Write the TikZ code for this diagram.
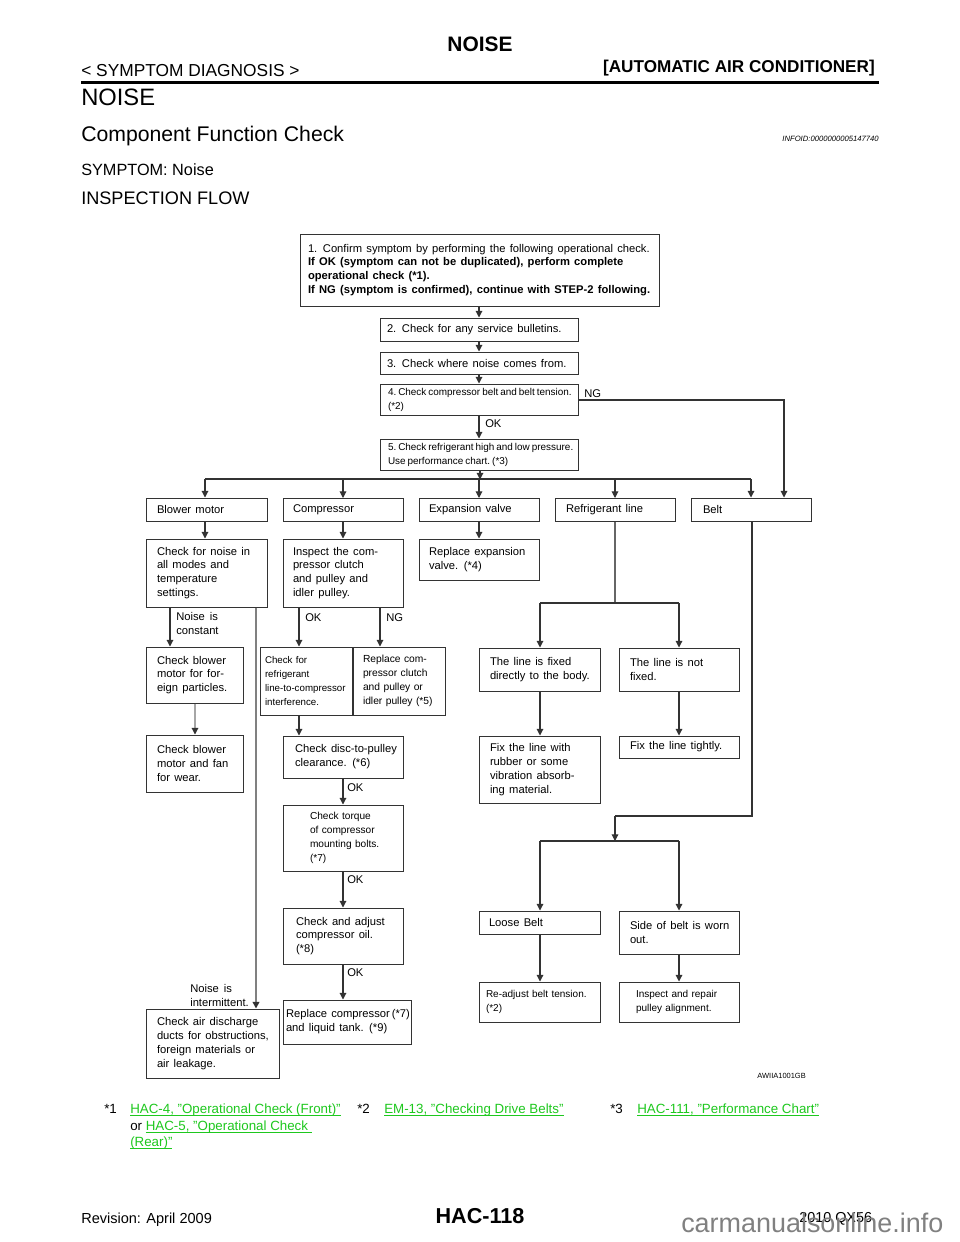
\documentclass[tikz,border=0pt]{standalone}
\usepackage{fontspec}
\setmainfont{Liberation Sans}
\newfontfamily\wsp[WordSpace=1.6]{Liberation Sans}
\usetikzlibrary{arrows.meta}
\definecolor{lnk}{RGB}{30,200,30}
\definecolor{ln}{gray}{0.2}
\newcommand{\fsz}[1]{\fontsize{#1}{#1}\selectfont}
\newcommand{\uln}[1]{\underline{\smash{#1}}}
\tikzset{x=0.75pt,y=-0.75pt,
  boxst/.style={draw=ln,line width=0.75pt,inner sep=0pt,align=left,font=\wsp\fsz{8.4}},
  arr/.style={draw=ln,line width=0.8pt,-{Triangle[length=5pt,width=5pt,color=ln]}},
  lin/.style={draw=ln,line width=0.8pt},
  lab/.style={inner sep=0pt,anchor=base west,align=left,font=\wsp\fontsize{8.4}{10.4}\selectfont},
  txt/.style={inner sep=0pt,anchor=base west,text=black}}
% name, x1, y1, x2, y2, left pad (px), text
\newcommand{\bx}[7]{%
  \pgfmathsetmacro{\bw}{(#4-#2)*0.75}\pgfmathsetmacro{\bh}{(#5-#3)*0.75}%
  \pgfmathsetmacro{\bp}{#6*0.75}%
  \node[boxst,text width=\bw pt,minimum height=\bh pt] (#1) at ({(#2+#4)/2},{(#3+#5)/2})
    {\leftskip=\bp pt\relax\rightskip=-30pt\relax\spaceskip=3.2pt\relax\baselineskip=10.4pt #7\par};}
\newcommand{\nrm}[1]{\normalfont\frenchspacing\fsz{#1}\spaceskip=.3333em\relax\baselineskip=10.5pt }
\newcommand{\nrt}[1]{\normalfont\frenchspacing\fsz{#1}\spaceskip=.2em\relax\baselineskip=10.6pt }
\begin{document}
\begin{tikzpicture}
\useasboundingbox (0,0) rectangle (960,1242);
\fill[white] (0,0) rectangle (960,1242);
% header
\node[txt,anchor=base,font=\bfseries\fsz{15.7}] (h1) at (480,51) {NOISE};
\node[txt,font=\fsz{13}] (h2) at (81,76) {< SYMPTOM DIAGNOSIS >};
\node[txt,anchor=base east,font=\bfseries\fsz{12.85}] (h3) at (875,72) {[AUTOMATIC AIR CONDITIONER]};
\fill[black] (81,80.5) rectangle (879,83.5);
\node[txt,font=\fsz{17.8}] (h4) at (81,105) {NOISE};
\node[txt,font=\fsz{15.9}] (h5) at (81,141) {Component Function Check};
\node[txt,anchor=base east,font=\itshape\fsz{5.75}] (h6) at (879,141) {INFOID:0000000005147740};
\node[txt,font=\fsz{12.2}] (h7) at (81,175) {SYMPTOM: Noise};
\node[txt,font=\fsz{13.6}] (h8) at (81,204) {INSPECTION FLOW};
% top boxes
\bx{b1}{300}{234}{659}{306}{8}{1. Confirm symptom by performing the following operational check.\\\textbf{If OK (symptom can not be duplicated), perform complete}\\\textbf{operational check (*1).}\\\textbf{If NG (symptom is confirmed), continue with STEP-2 following.}}
\bx{b2}{380}{318}{578}{341}{7}{2. Check for any service bulletins.}
\bx{b3}{380}{352}{578}{374}{7}{3. Check where noise comes from.}
\bx{b4}{380}{384}{578}{415}{8}{\nrt{7.45}4. Check compressor belt and belt tension.\\(*2)}
\bx{b5}{380}{439}{578}{470}{8}{\nrt{7.45}5. Check refrigerant high and low pressure.\\Use performance chart. (*3)}
% row
\bx{c1}{146}{498}{267}{521}{11}{Blower motor}
\bx{c2}{283}{498}{403}{521}{10}{Compressor}
\bx{c3}{419}{498}{539}{521}{10}{Expansion valve}
\bx{c4}{555}{498}{675}{521}{11}{Refrigerant line}
\bx{c5}{691}{498}{811}{521}{12}{Belt}
\bx{d1}{146}{539}{267}{607}{11}{Check for noise in\\all modes and\\temperature\\settings.}
\bx{d2}{283}{539}{403}{607}{10}{Inspect the com-\\pressor clutch\\and pulley and\\idler pulley.}
\bx{d3}{419}{539}{539}{580}{10}{Replace expansion\\valve. (*4)}
\bx{e1}{146}{647}{243}{703}{11}{Check blower\\motor for for-\\eign particles.}
\bx{e2}{146}{735}{243}{792}{11}{Check blower\\motor and fan\\for wear.}
\bx{f1}{260}{647}{352}{715}{5}{\nrm{7.3}Check for\\refrigerant\\line-to-compressor\\interference.}
\bx{f2}{353}{647}{445}{715}{10}{\nrm{7.7}Replace com-\\pressor clutch\\and pulley or\\idler pulley (*5)}
\bx{g1}{283}{736}{403}{778}{12}{Check disc-to-pulley\\clearance. (*6)}
\bx{g2}{283}{805}{403}{871}{27}{\nrm{7.6}Check torque\\of compressor\\mounting bolts.\\(*7)}
\bx{g3}{283}{908}{403}{964}{13}{Check and adjust\\compressor oil.\\(*8)}
\bx{g4}{283}{1000}{411}{1044}{3}{Replace compressor\hspace{1.5pt}(*7)\\and liquid tank. (*9)}
\bx{a1}{146}{1009}{279}{1078}{11}{Check air discharge\\ducts for obstructions,\\foreign materials or\\air leakage.}
\bx{r1}{479}{648}{600}{691}{11}{The line is fixed\\directly to the body.}
\bx{r2}{619}{648}{739}{691}{11}{The line is not\\fixed.}
\bx{r3}{479}{736}{600}{803}{11}{Fix the line with\\rubber or some\\vibration absorb-\\ing material.}
\bx{r4}{619}{736}{739}{758}{11}{Fix the line tightly.}
\bx{s1}{479}{911}{600}{934}{10}{Loose Belt}
\bx{s2}{619}{911}{739}{954}{11}{Side of belt is worn\\out.}
\bx{s3}{479}{982}{600}{1022}{7}{\nrm{7.5}Re-adjust belt tension.\\(*2)}
\bx{s4}{619}{982}{739}{1022}{17}{\nrm{7.5}Inspect and repair\\pulley alignment.}
% helper coordinates
\coordinate (j5) at (480,479);
\coordinate (jl) at (205,479);
\coordinate (jr) at (751,479);
\coordinate (ngc) at (784,400);
\coordinate (rj) at (615,603);
\coordinate (rl) at (540,603);
\coordinate (rr) at (679,603);
\coordinate (bc) at (752,816);
\coordinate (bd) at (615,816);
\coordinate (be) at (615,841);
\coordinate (bl) at (540,841);
\coordinate (br) at (679,841);
% connectors
\foreach \p/\q/\xx in {b1/b2/479,b2/b3/479,b3/b4/479,b4/b5/479}{
  \draw[arr] (\xx,0 |- \p.south) -- (\xx,0 |- \q.north);}
\draw[arr] (b5.south -| j5) -- ++(0,9);
\draw[lin] (jl) -- (jr);
\draw[arr] (jl) -- (jl |- c1.north);
\draw[arr] (343,479) -- (343,498);
\draw[arr] (479,479) -- (479,498);
\draw[arr] (615,479) -- (615,498);
\draw[arr] (jr) -- (jr |- c5.north);
\draw[arr] (b4.east |- ngc) -- (ngc) -- (ngc |- c5.north);
\draw[arr] (205,0 |- c1.south) -- (205,0 |- d1.north);
\draw[arr] (343,0 |- c2.south) -- (343,0 |- d2.north);
\draw[arr] (479,0 |- c3.south) -- (479,0 |- d3.north);
\draw[arr] (170,0 |- d1.south) -- (170,0 |- e1.north);
\draw[arr,draw=gray!70] (195,0 |- e1.south) -- (195,0 |- e2.north);
\draw[arr,draw=gray,line width=1.3pt] (256,0 |- d1.south) -- (256,0 |- a1.north);
\draw[arr] (299,0 |- d2.south) -- (299,0 |- f1.north);
\draw[arr] (380,0 |- d2.south) -- (380,0 |- f2.north);
\draw[arr] (299,0 |- f1.south) -- (299,0 |- g1.north);
\draw[arr] (343,0 |- g1.south) -- (343,0 |- g2.north);
\draw[arr] (343,0 |- g2.south) -- (343,0 |- g3.north);
\draw[arr] (343,0 |- g3.south) -- (343,0 |- g4.north);
\draw[lin,draw=gray!80!black] (c4.south -| rj) -- (rj);
\draw[lin] (rl) -- (rr);
\draw[arr] (rl) -- (rl |- r1.north);
\draw[arr] (rr) -- (rr |- r2.north);
\draw[arr] (rl |- r1.south) -- (rl |- r3.north);
\draw[arr] (rr |- r2.south) -- (rr |- r4.north);
\draw[lin] (c5.south -| bc) -- (bc) -- (bd);
\draw[arr] (bd) -- (be);
\draw[lin] (bl) -- (br);
\draw[arr] (bl) -- (bl |- s1.north);
\draw[arr] (br) -- (br |- s2.north);
\draw[arr] (bl |- s1.south) -- (bl |- s3.north);
\draw[arr] (br |- s2.south) -- (br |- s4.north);
% labels
\node[lab] (l1) at (584,397) {NG};
\node[lab] (l2) at (485,427) {OK};
\node[lab] (l3) at (176,634) {Noise is\\constant};
\node[lab] (l4) at (305,621) {OK};
\node[lab] (l5) at (386,621) {NG};
\node[lab] (l6) at (347,791) {OK};
\node[lab] (l7) at (347,883) {OK};
\node[lab] (l8) at (347,976) {OK};
\node[lab] (l9) at (190,1006) {Noise is\\intermittent.};
\node[txt,anchor=base east,font=\fsz{5.6}] (id) at (806,1078) {AWIIA1001GB};
% footnotes
\node[txt,font=\fsz{10}] (n1) at (104,1113) {*1};
\node[txt,text=lnk,font=\fsz{10}] (n1a) at (130,1113) {\uln{HAC-4, "Operational Check (Front)"}};
\node[txt,font=\fsz{10}] (n1b) at (130,1130) {or \textcolor{lnk}{\uln{HAC-5, "Operational Check~}}};
\node[txt,text=lnk,font=\fsz{10}] (n1c) at (130,1146) {\uln{(Rear)"}};
\node[txt,font=\fsz{10}] (n2) at (357,1113) {*2};
\node[txt,text=lnk,font=\fsz{10}] (n2a) at (384,1113) {\uln{EM-13, "Checking Drive Belts"}};
\node[txt,font=\fsz{10}] (n3) at (610,1113) {*3};
\node[txt,text=lnk,font=\fsz{10}] (n3a) at (637,1113) {\uln{HAC-111, "Performance Chart"}};
% footer
\node[txt,font=\fsz{10.9}] (f1) at (81,1223) {Revision: April 2009};
\node[txt,anchor=base,font=\bfseries\fsz{16.2}] (f2) at (480,1223) {HAC-118};
\node[txt,font=\fsz{10.8}] (f3) at (799,1222) {2010 QX56};
\node[txt,text=gray,font=\fsz{20.2}] (wm) at (681,1232) {carmanualsonline.info};
\end{tikzpicture}
\end{document}
